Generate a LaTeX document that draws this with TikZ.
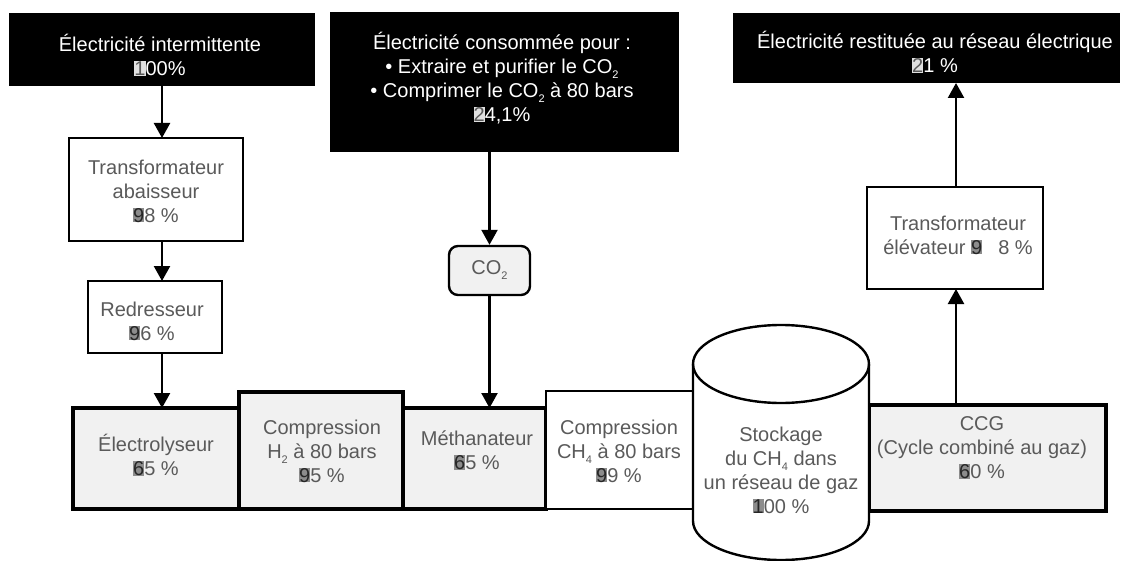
\documentclass[tikz,border=0pt]{standalone}
\usepackage{fontspec}
\setmainfont{Liberation Sans}
\usetikzlibrary{arrows.meta}
\definecolor{fillg}{HTML}{F1F1F1}
\definecolor{txtg}{HTML}{5A5A5A}
\newcommand{\gxw}[1]{\makebox[0pt][l]{\textcolor{black!45}{\rule[-0.02em]{0.56em}{0.74em}}}\textcolor{black!85}{#1}}
\newcommand{\gxb}[1]{\makebox[0pt][l]{\textcolor{black!12}{\rule[-0.02em]{0.56em}{0.74em}}}\textcolor{black!65}{#1}}
\newcommand{\subx}[1]{\raisebox{-0.5ex}{\fontsize{11}{11}\selectfont #1}}
\tikzset{
  blackbox/.style={rectangle, draw=none, fill=black, inner sep=0pt, outer sep=0pt},
  wbox/.style={rectangle, draw=black, fill=white, line width=2.6pt, inner sep=0pt, outer sep=0pt},
  gbox/.style={rectangle, draw=black, fill=fillg, line width=3.6pt, inner sep=0pt, outer sep=0pt},
  wtxt/.style={text=white, align=center, inner sep=0pt, font=\fontsize{20}{24}\selectfont},
  gtxt/.style={text=txtg, align=center, inner sep=0pt, font=\fontsize{20}{24}\selectfont},
  arr/.style={line width=2.3pt, -{Triangle[width=16pt,length=15pt]}},
}
\begin{document}
\begin{tikzpicture}[x=1pt,y=-1pt]
\useasboundingbox (0,0) rectangle (1126,561);
% reference x positions of connectors
\coordinate (ax) at (162,0);
\coordinate (bx) at (489.5,0);
\coordinate (cx) at (956,0);

% top black boxes
\node[blackbox, minimum width=306pt, minimum height=73pt] (tl) at (162,49.5) {};
\node[wtxt] (tlt) at (160,55) {Électricité intermittente\\ \gxb{1}00\%};
\node[blackbox, minimum width=349pt, minimum height=140pt] (tm) at (504.5,82) {};
\node[wtxt] (tmt) at (502,78) {Électricité consommée pour :\\ • Extraire et purifier le CO\subx{2}\\ • Comprimer le CO\subx{2} à 80 bars\\ \gxb{2}4,1\%};
\node[blackbox, minimum width=387pt, minimum height=70pt] (tr) at (926.5,48) {};
\node[wtxt] (trt) at (935,52) {Électricité restituée au réseau électrique\\ \gxb{2}1 \%};

% left column
\node[wbox, minimum width=174pt, minimum height=103pt] (ta) at (156,189.5) {};
\node[gtxt] (tat) at (156,191) {Transformateur\\ abaisseur\\ \gxw{9}8 \%};
\node[wbox, minimum width=134pt, minimum height=72pt] (rd) at (155,317) {};
\node[gtxt] (rdt) at (152,321) {Redresseur\\ \gxw{9}6 \%};

% CO2
\node[rectangle, rounded corners=9pt, draw=black, fill=fillg, line width=2.4pt, minimum width=81pt, minimum height=49pt, inner sep=0pt] (co2) at (489.5,270.5) {};
\node[gtxt] (co2t) at (489.5,270) {CO\subx{2}};

% right column
\node[wbox, minimum width=176pt, minimum height=102pt] (te) at (955,238) {};
\node[gtxt] (tet) at (958,235) {Transformateur\\ élévateur \gxw{9}\hspace{0.8em}8 \%};

% bottom row
\node[gbox, minimum width=166pt, minimum height=101pt] (el) at (156,458.5) {};
\node[gtxt] (elt) at (156,455) {Électrolyseur\\ \gxw{6}5 \%};
\node[gbox, minimum width=164pt, minimum height=117pt] (ch) at (321,450.5) {};
\node[gtxt] (cht) at (322,451) {Compression\\ H\subx{2} à 80 bars\\ \gxw{9}5 \%};
\node[gbox, minimum width=143pt, minimum height=101pt] (me) at (474.5,458.5) {};
\node[gtxt] (met) at (477,450) {Méthanateur\\ \gxw{6}5 \%};
\node[wbox, minimum width=147pt, minimum height=118pt] (c4) at (619.5,450) {};
\node[gtxt] (c4t) at (619,451) {Compression\\ CH\subx{4} à 80 bars\\ \gxw{9}9 \%};
\node[gbox, minimum width=237pt, minimum height=106pt] (ccg) at (987.5,458) {};
\node[gtxt] (ccgt) at (982,448) {CCG\\ (Cycle combiné au gaz)\\ \gxw{6}0 \%};

% cylinder (storage)
\draw[line width=2.4pt, fill=white] (693,364) -- (693,521)
  arc[start angle=180, end angle=0, x radius=88, y radius=39]
  -- (869,364)
  arc[start angle=0, end angle=-180, x radius=88, y radius=39] -- cycle;
\draw[line width=2.4pt] (693,364) arc[start angle=180, end angle=0, x radius=88, y radius=39];
\node[gtxt] (cyt) at (781,470) {Stockage\\ du CH\subx{4} dans\\ un réseau de gaz\\ \gxw{1}00 \%};

% connectors
\draw[arr] (tl.south -| ax) -- (ta.north -| ax);
\draw[arr] (ta.south -| ax) -- (rd.north -| ax);
\draw[arr] (rd.south -| ax) -- (el.north -| ax);
\draw[arr] (tm.south -| bx) -- (co2.north -| bx);
\draw[arr] (co2.south -| bx) -- (me.north -| bx);
\draw[arr] (ccg.north -| cx) -- (te.south -| cx);
\draw[arr] (te.north -| cx) -- (tr.south -| cx);
\end{tikzpicture}
\end{document}
